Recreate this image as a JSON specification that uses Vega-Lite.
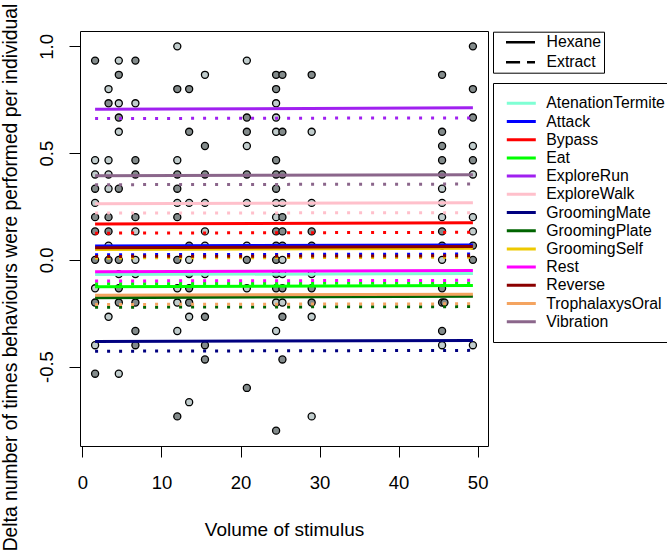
{
  "$schema": "https://vega.github.io/schema/vega-lite/v6.json",
  "autosize": {"type": "none"},
  "width": 408,
  "height": 415,
  "padding": {"left": 80, "top": 31, "right": 179, "bottom": 110},
  "background": "white",
  "config": {
    "font": "Liberation Sans",
    "view": {"stroke": "black", "strokeWidth": 1},
    "axis": {"grid": false, "domain": false, "tickColor": "black", "tickWidth": 1, "tickSize": 11, "labelColor": "black", "labelFontSize": 18.5, "titleFontSize": 19, "titleFontWeight": "normal", "titleColor": "black", "labelFont": "Liberation Sans", "titleFont": "Liberation Sans"},
    "legend": {"labelFont": "Liberation Sans", "labelFontSize": 15.8, "labelColor": "black"}
  },
  "datasets": {
    "pts": [
      {"x":12.0,"y":1.0,"g":"light"},{"x":49.4,"y":1.0,"g":"dark"},
      {"x":1.6,"y":0.9333,"g":"dark"},{"x":4.6,"y":0.9333,"g":"light"},{"x":6.7,"y":0.9333,"g":"dark"},{"x":20.8,"y":0.9333,"g":"light"},
      {"x":4.6,"y":0.8667,"g":"dark"},{"x":15.5,"y":0.8667,"g":"light"},{"x":24.5,"y":0.8667,"g":"dark"},{"x":25.3,"y":0.8667,"g":"dark"},{"x":29.0,"y":0.8667,"g":"dark"},{"x":45.5,"y":0.8667,"g":"dark"},
      {"x":3.3,"y":0.8,"g":"light"},{"x":12.0,"y":0.8,"g":"dark"},{"x":13.5,"y":0.8,"g":"dark"},{"x":24.5,"y":0.8,"g":"dark"},{"x":49.4,"y":0.8,"g":"dark"},
      {"x":3.3,"y":0.7333,"g":"dark"},{"x":4.6,"y":0.7333,"g":"light"},{"x":6.7,"y":0.7333,"g":"light"},{"x":24.5,"y":0.7333,"g":"light"},
      {"x":4.6,"y":0.6667,"g":"dark"},{"x":20.8,"y":0.6667,"g":"dark"},{"x":24.5,"y":0.6667,"g":"light"},{"x":49.4,"y":0.6667,"g":"dark"},
      {"x":4.6,"y":0.6,"g":"light"},{"x":13.5,"y":0.6,"g":"dark"},{"x":20.8,"y":0.6,"g":"dark"},{"x":24.5,"y":0.6,"g":"light"},{"x":25.3,"y":0.6,"g":"dark"},{"x":29.0,"y":0.6,"g":"light"},{"x":45.5,"y":0.6,"g":"dark"},
      {"x":15.5,"y":0.5333,"g":"dark"},{"x":20.8,"y":0.5333,"g":"light"},{"x":45.5,"y":0.5333,"g":"dark"},{"x":49.4,"y":0.5333,"g":"light"},
      {"x":1.6,"y":0.4667,"g":"light"},{"x":3.3,"y":0.4667,"g":"light"},{"x":6.7,"y":0.4667,"g":"dark"},{"x":12.0,"y":0.4667,"g":"light"},{"x":24.5,"y":0.4667,"g":"dark"},{"x":45.5,"y":0.4667,"g":"dark"},{"x":49.4,"y":0.4667,"g":"dark"},
      {"x":1.6,"y":0.4,"g":"light"},{"x":3.3,"y":0.4,"g":"light"},{"x":6.7,"y":0.4,"g":"dark"},{"x":12.0,"y":0.4,"g":"dark"},{"x":15.5,"y":0.4,"g":"dark"},{"x":20.8,"y":0.4,"g":"dark"},{"x":24.5,"y":0.4,"g":"dark"},{"x":25.3,"y":0.4,"g":"dark"},{"x":45.5,"y":0.4,"g":"dark"},{"x":49.4,"y":0.4,"g":"light"},
      {"x":1.6,"y":0.3333,"g":"dark"},{"x":3.3,"y":0.3333,"g":"light"},{"x":4.6,"y":0.3333,"g":"dark"},{"x":12.0,"y":0.3333,"g":"dark"},{"x":24.5,"y":0.3333,"g":"dark"},{"x":45.5,"y":0.3333,"g":"light"},
      {"x":1.6,"y":0.2667,"g":"light"},{"x":12.0,"y":0.2667,"g":"light"},{"x":13.5,"y":0.2667,"g":"light"},{"x":15.5,"y":0.2667,"g":"light"},{"x":20.8,"y":0.2667,"g":"light"},{"x":24.5,"y":0.2667,"g":"light"},{"x":25.3,"y":0.2667,"g":"light"},{"x":29.0,"y":0.2667,"g":"light"},{"x":45.5,"y":0.2667,"g":"light"},
      {"x":1.6,"y":0.2,"g":"dark"},{"x":3.3,"y":0.2,"g":"dark"},{"x":6.7,"y":0.2,"g":"dark"},{"x":12.0,"y":0.2,"g":"dark"},{"x":24.5,"y":0.2,"g":"light"},{"x":25.3,"y":0.2,"g":"dark"},{"x":45.5,"y":0.2,"g":"light"},{"x":49.4,"y":0.2,"g":"light"},
      {"x":1.6,"y":0.1333,"g":"dark"},{"x":3.3,"y":0.1333,"g":"dark"},{"x":6.7,"y":0.1333,"g":"light"},{"x":15.5,"y":0.1333,"g":"light"},{"x":24.5,"y":0.1333,"g":"dark"},{"x":25.3,"y":0.1333,"g":"dark"},{"x":29.0,"y":0.1333,"g":"dark"},{"x":45.5,"y":0.1333,"g":"dark"},{"x":49.4,"y":0.1333,"g":"light"},
      {"x":3.3,"y":0.0667,"g":"light"},{"x":13.5,"y":0.0667,"g":"dark"},{"x":15.5,"y":0.0667,"g":"light"},{"x":20.8,"y":0.0667,"g":"light"},{"x":24.5,"y":0.0667,"g":"dark"},{"x":25.3,"y":0.0667,"g":"dark"},{"x":29.0,"y":0.0667,"g":"dark"},{"x":45.5,"y":0.0667,"g":"dark"},{"x":49.4,"y":0.0667,"g":"dark"},
      {"x":1.6,"y":0,"g":"dark"},{"x":3.3,"y":0,"g":"dark"},{"x":4.6,"y":0,"g":"dark"},{"x":6.7,"y":0,"g":"light"},{"x":12.0,"y":0,"g":"dark"},{"x":13.5,"y":0,"g":"light"},{"x":20.8,"y":0,"g":"dark"},{"x":24.5,"y":0,"g":"dark"},{"x":25.3,"y":0,"g":"light"},{"x":45.5,"y":0,"g":"light"},{"x":49.4,"y":0,"g":"dark"},
      {"x":4.6,"y":-0.0667,"g":"light"},{"x":6.7,"y":-0.0667,"g":"light"},{"x":13.5,"y":-0.0667,"g":"dark"},{"x":15.5,"y":-0.0667,"g":"light"},{"x":24.5,"y":-0.0667,"g":"dark"},{"x":25.3,"y":-0.0667,"g":"light"},{"x":29.0,"y":-0.0667,"g":"light"},
      {"x":1.6,"y":-0.1333,"g":"light"},{"x":4.6,"y":-0.1333,"g":"dark"},{"x":12.0,"y":-0.1333,"g":"light"},{"x":13.5,"y":-0.1333,"g":"dark"},{"x":20.8,"y":-0.1333,"g":"light"},{"x":24.5,"y":-0.1333,"g":"dark"},{"x":25.3,"y":-0.1333,"g":"dark"},{"x":29.0,"y":-0.1333,"g":"dark"},{"x":45.5,"y":-0.1333,"g":"dark"},
      {"x":1.6,"y":-0.2,"g":"dark"},{"x":4.6,"y":-0.2,"g":"dark"},{"x":6.7,"y":-0.2,"g":"dark"},{"x":12.0,"y":-0.2,"g":"light"},{"x":13.5,"y":-0.2,"g":"dark"},{"x":24.5,"y":-0.2,"g":"light"},{"x":25.3,"y":-0.2,"g":"light"},{"x":29.0,"y":-0.2,"g":"dark"},{"x":45.5,"y":-0.2,"g":"dark"},{"x":45.8,"y":-0.2,"g":"dark"},
      {"x":3.3,"y":-0.2667,"g":"light"},{"x":13.5,"y":-0.2667,"g":"light"},{"x":15.5,"y":-0.2667,"g":"dark"},{"x":25.3,"y":-0.2667,"g":"dark"},{"x":29.0,"y":-0.2667,"g":"light"},
      {"x":6.7,"y":-0.3333,"g":"dark"},{"x":12.0,"y":-0.3333,"g":"light"},{"x":24.5,"y":-0.3333,"g":"light"},{"x":45.5,"y":-0.3333,"g":"dark"},
      {"x":1.6,"y":-0.4,"g":"light"},{"x":6.7,"y":-0.4,"g":"dark"},{"x":15.5,"y":-0.4,"g":"dark"},{"x":45.5,"y":-0.4,"g":"light"},{"x":49.4,"y":-0.4,"g":"light"},
      {"x":15.5,"y":-0.4667,"g":"dark"},{"x":25.3,"y":-0.4667,"g":"dark"},
      {"x":1.6,"y":-0.5333,"g":"dark"},{"x":4.6,"y":-0.5333,"g":"light"},
      {"x":20.8,"y":-0.6,"g":"dark"},
      {"x":13.5,"y":-0.6667,"g":"light"},
      {"x":12.0,"y":-0.7333,"g":"dark"},{"x":29.0,"y":-0.7333,"g":"light"},
      {"x":24.5,"y":-0.8,"g":"dark"}
    ],
    "lines": [
      {"behaviour":"AtenationTermite","treatment":"Hexane","x":1.6,"y":-0.069},{"behaviour":"AtenationTermite","treatment":"Hexane","x":49.4,"y":-0.064},
      {"behaviour":"AtenationTermite","treatment":"Extract","x":1.6,"y":-0.107},{"behaviour":"AtenationTermite","treatment":"Extract","x":49.4,"y":-0.104},
      {"behaviour":"Attack","treatment":"Hexane","x":1.6,"y":0.065},{"behaviour":"Attack","treatment":"Hexane","x":49.4,"y":0.070},
      {"behaviour":"Attack","treatment":"Extract","x":1.6,"y":0.024},{"behaviour":"Attack","treatment":"Extract","x":49.4,"y":0.027},
      {"behaviour":"Bypass","treatment":"Hexane","x":1.6,"y":0.168},{"behaviour":"Bypass","treatment":"Hexane","x":49.4,"y":0.174},
      {"behaviour":"Bypass","treatment":"Extract","x":1.6,"y":0.125},{"behaviour":"Bypass","treatment":"Extract","x":49.4,"y":0.129},
      {"behaviour":"Eat","treatment":"Hexane","x":1.6,"y":-0.126},{"behaviour":"Eat","treatment":"Hexane","x":49.4,"y":-0.120},
      {"behaviour":"Eat","treatment":"Extract","x":1.6,"y":-0.112},{"behaviour":"Eat","treatment":"Extract","x":49.4,"y":-0.109},
      {"behaviour":"ExploreRun","treatment":"Hexane","x":1.6,"y":0.705},{"behaviour":"ExploreRun","treatment":"Hexane","x":49.4,"y":0.712},
      {"behaviour":"ExploreRun","treatment":"Extract","x":1.6,"y":0.662},{"behaviour":"ExploreRun","treatment":"Extract","x":49.4,"y":0.665},
      {"behaviour":"ExploreWalk","treatment":"Hexane","x":1.6,"y":0.263},{"behaviour":"ExploreWalk","treatment":"Hexane","x":49.4,"y":0.267},
      {"behaviour":"ExploreWalk","treatment":"Extract","x":1.6,"y":0.219},{"behaviour":"ExploreWalk","treatment":"Extract","x":49.4,"y":0.221},
      {"behaviour":"GroomingMate","treatment":"Hexane","x":1.6,"y":-0.382},{"behaviour":"GroomingMate","treatment":"Hexane","x":49.4,"y":-0.378},
      {"behaviour":"GroomingMate","treatment":"Extract","x":1.6,"y":-0.428},{"behaviour":"GroomingMate","treatment":"Extract","x":49.4,"y":-0.424},
      {"behaviour":"GroomingPlate","treatment":"Hexane","x":1.6,"y":-0.177},{"behaviour":"GroomingPlate","treatment":"Hexane","x":49.4,"y":-0.171},
      {"behaviour":"GroomingPlate","treatment":"Extract","x":1.6,"y":-0.222},{"behaviour":"GroomingPlate","treatment":"Extract","x":49.4,"y":-0.219},
      {"behaviour":"GroomingSelf","treatment":"Hexane","x":1.6,"y":0.049},{"behaviour":"GroomingSelf","treatment":"Hexane","x":49.4,"y":0.054},
      {"behaviour":"GroomingSelf","treatment":"Extract","x":1.6,"y":0.009},{"behaviour":"GroomingSelf","treatment":"Extract","x":49.4,"y":0.012},
      {"behaviour":"Rest","treatment":"Hexane","x":1.6,"y":-0.056},{"behaviour":"Rest","treatment":"Hexane","x":49.4,"y":-0.050},
      {"behaviour":"Rest","treatment":"Extract","x":1.6,"y":-0.099},{"behaviour":"Rest","treatment":"Extract","x":49.4,"y":-0.096},
      {"behaviour":"Reverse","treatment":"Hexane","x":1.6,"y":0.057},{"behaviour":"Reverse","treatment":"Hexane","x":49.4,"y":0.062},
      {"behaviour":"Reverse","treatment":"Extract","x":1.6,"y":0.016},{"behaviour":"Reverse","treatment":"Extract","x":49.4,"y":0.019},
      {"behaviour":"TrophalaxysOral","treatment":"Hexane","x":1.6,"y":-0.166},{"behaviour":"TrophalaxysOral","treatment":"Hexane","x":49.4,"y":-0.161},
      {"behaviour":"TrophalaxysOral","treatment":"Extract","x":1.6,"y":-0.209},{"behaviour":"TrophalaxysOral","treatment":"Extract","x":49.4,"y":-0.206},
      {"behaviour":"Vibration","treatment":"Hexane","x":1.6,"y":0.394},{"behaviour":"Vibration","treatment":"Hexane","x":49.4,"y":0.399},
      {"behaviour":"Vibration","treatment":"Extract","x":1.6,"y":0.352},{"behaviour":"Vibration","treatment":"Extract","x":49.4,"y":0.355}
    ]
  },
  "encoding": {
    "x": {"field": "x", "type": "quantitative",
      "scale": {"domain": [-0.31, 51.31], "nice": false, "zero": false},
      "axis": {"values": [0,10,20,30,40,50], "format": "d", "labelPadding": 31, "labelBaseline": "alphabetic",
        "title": "Volume of stimulus", "titleX": 204, "titleY": 89, "titleBaseline": "alphabetic", "titleAlign": "center"}},
    "y": {"field": "y", "type": "quantitative",
      "scale": {"domain": [-0.872, 1.072], "nice": false, "zero": false},
      "axis": {"values": [-0.5,0,0.5,1], "labelExpr": "replace(format(datum.value,'.1f'),'\u2212','-')",
        "labelAngle": 270, "labelAlign": "center", "labelBaseline": "alphabetic", "labelPadding": 16.5,
        "title": "Delta number of times behaviours were performed per individual",
        "titleFontSize": 19.3,
        "titleAngle": 270, "titleX": -63.5, "titleY": 246, "titleAlign": "center", "titleBaseline": "alphabetic"}}
  },
  "layer": [
    {
      "data": {"name": "lines"},
      "transform": [{"filter": "datum.x < 2"}],
      "mark": {"type": "point", "opacity": 0, "filled": false},
      "encoding": {
        "shape": {"field": "treatment", "type": "nominal",
          "scale": {"domain": ["Hexane","Extract"], "range": ["M-1,0H1", "M-1,0H-0.03M0.45,0H1"]},
          "legend": {"orient": "none", "legendX": 413, "legendY": 0.7, "title": null, "padding": 2.5,
            "strokeColor": "black", "fillColor": "white",
            "symbolSize": 841, "symbolStrokeWidth": 2.5, "symbolStrokeColor": "black",
            "symbolOffset": 9, "clipHeight": 16, "rowPadding": 4, "labelOffset": 10,
            "labelExpr": "datum.label + '\u00a0\u00a0\u00a0\u00a0\u00a0\u00a0\u00a0\u00a0\u00a0\u00a0\u00a0\u00a0\u00a0\u00a0\u00a0\u00a0\u00a0\u00a0\u00a0\u00a0\u00a0\u00a0\u00a0\u00a0\u00a0\u00a0\u00a0\u00a0\u00a0\u00a0'",
            "encode": {"symbols": {"update": {"opacity": {"value": 1}, "strokeOpacity": {"value": 1}, "stroke": {"value": "black"}, "fill": {"value": "transparent"}, "strokeWidth": {"value": 2.5}}}}}
        }
      }
    },
    {
      "data": {"name": "pts"},
      "mark": {"type": "circle", "size": 50, "opacity": 1, "stroke": "black", "strokeWidth": 1.3},
      "encoding": {
        "fill": {"field": "g", "type": "nominal", "scale": {"domain": ["dark","light"], "range": ["#838B8B","#C1CDCD"]}, "legend": null}
      }
    },
    {
      "data": {"name": "lines"},
      "transform": [{"filter": "datum.treatment === 'Hexane'"}],
      "mark": {"type": "line", "strokeWidth": 3, "strokeCap": "butt"},
      "encoding": {
        "color": {"field": "behaviour", "type": "nominal",
          "scale": {"domain": ["AtenationTermite","Attack","Bypass","Eat","ExploreRun","ExploreWalk","GroomingMate","GroomingPlate","GroomingSelf","Rest","Reverse","TrophalaxysOral","Vibration"],
            "range": ["#7FFFD4","#0000FF","#FF0000","#00FF00","#A020F0","#FFC0CB","#000080","#006400","#EEC900","#FF00FF","#8B0000","#F4A460","#8B668B"]},
          "legend": {"orient": "none", "legendX": 413, "legendY": 52, "title": null, "padding": 12.3,
            "strokeColor": "black", "fillColor": "white",
            "symbolType": "stroke", "symbolSize": 841, "symbolStrokeWidth": 3, "clipHeight": 16, "rowPadding": 2.2, "labelOffset": 9}},
        "order": {"field": "x", "type": "quantitative"}
      }
    },
    {
      "data": {"name": "lines"},
      "transform": [{"filter": "datum.treatment === 'Extract'"}],
      "mark": {"type": "line", "strokeWidth": 3, "strokeCap": "butt", "strokeDash": [3, 9]},
      "encoding": {
        "color": {"field": "behaviour", "type": "nominal"},
        "order": {"field": "x", "type": "quantitative"}
      }
    }
  ]
}
